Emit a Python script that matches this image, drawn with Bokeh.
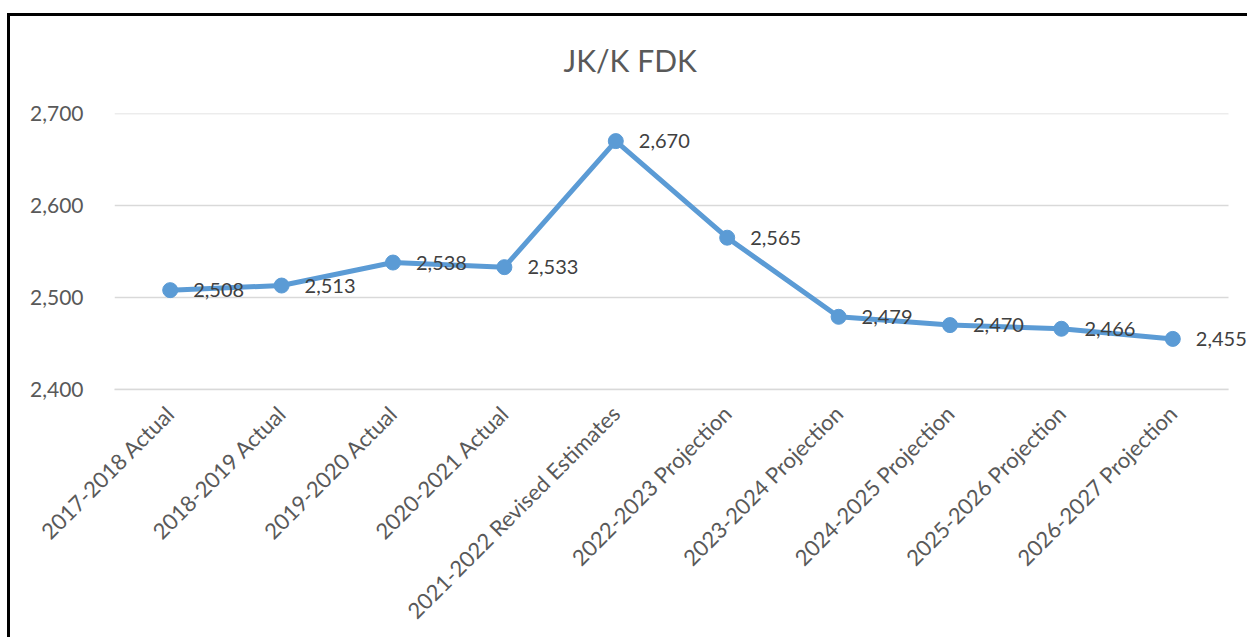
import math
from bokeh.plotting import figure
from bokeh.models import Range1d, FixedTicker, NumeralTickFormatter, ColumnDataSource, LabelSet, Title
from bokeh.core.properties import value
from bokeh.embed import file_html
from bokeh.resources import INLINE

categories = ["2017-2018 Actual", "2018-2019 Actual", "2019-2020 Actual", "2020-2021 Actual",
              "2021-2022 Revised Estimates", "2022-2023 Projection", "2023-2024 Projection",
              "2024-2025 Projection", "2025-2026 Projection", "2026-2027 Projection"]
values = [2508, 2513, 2538, 2533, 2670, 2565, 2479, 2470, 2466, 2455]
y_ticks = [2400, 2500, 2600, 2700]
title_text = "JK/K FDK"

FONT = "Lato"
LINE_COLOR = "#5B9BD5"

n = len(categories)
x_pos = [i + 0.5 for i in range(n)]          # centre of each category slot
source = ColumnDataSource(dict(x=x_pos, y=values, label=[f"{v:,}" for v in values]))

# frame: category slots occupy 1114 px, frame extends a further 22 px to the right for the last label
x_end = n * 1136 / 1114

p = figure(x_range=Range1d(0, x_end), y_range=Range1d(y_ticks[0], y_ticks[-1]),
           width=1240, height=624, output_backend="svg", toolbar_location=None,
           min_border_left=104, min_border_right=0, min_border_top=97, min_border_bottom=251)
p.styles = {"border-top": "3px solid black", "border-left": "3px solid black",
            "margin-left": "7px", "margin-top": "13px"}

# spacer panel between the frame and the title (pushes the title upwards)
p.add_layout(Title(text=" ", text_font_size="10px", standoff=23), "above")
p.add_layout(Title(text=title_text, align="left", offset=449, standoff=0,
                   text_font=FONT, text_font_size="30px", text_font_style="normal",
                   text_color="#595959"), "above")

p.outline_line_color = None
p.background_fill_color = "white"
p.border_fill_color = "white"

# horizontal gridlines spanning the category area only
p.segment(x0=0, x1=n, y0=y_ticks, y1=y_ticks, line_color="#D9D9D9", line_width=1.5)

p.line(x="x", y="y", source=source, line_color=LINE_COLOR, line_width=5)
p.scatter(x="x", y="y", source=source, size=15, fill_color=LINE_COLOR, line_color=LINE_COLOR)

labels = LabelSet(x="x", y="y", text="label", source=source, x_offset=23,
                  text_align="left", text_baseline="middle",
                  text_font=value(FONT), text_font_size="20px", text_color="#404040")
p.add_layout(labels)

p.xgrid.grid_line_color = None
p.ygrid.grid_line_color = None

p.yaxis.ticker = FixedTicker(ticks=y_ticks)
p.yaxis.formatter = NumeralTickFormatter(format="0,0")
p.yaxis.axis_line_color = None
p.yaxis.major_tick_line_color = None
p.yaxis.minor_tick_line_color = None
p.yaxis.major_label_standoff = 25
p.yaxis.major_label_text_font = FONT
p.yaxis.major_label_text_font_size = "21px"
p.yaxis.major_label_text_color = "#595959"

p.xaxis.ticker = FixedTicker(ticks=x_pos)
p.xaxis.major_label_overrides = {x: c for x, c in zip(x_pos, categories)}
p.xaxis.bounds = (0, n)
p.xaxis.axis_line_color = "#D9D9D9"
p.xaxis.axis_line_width = 1.5
p.xaxis.major_tick_line_color = None
p.xaxis.minor_tick_line_color = None
p.xaxis.major_label_orientation = math.pi / 4
p.xaxis.major_label_standoff = 14
p.xaxis.major_label_text_font = FONT
p.xaxis.major_label_text_font_size = "22px"
p.xaxis.major_label_text_color = "#595959"

open("out.html", "w").write(file_html(p, INLINE))
